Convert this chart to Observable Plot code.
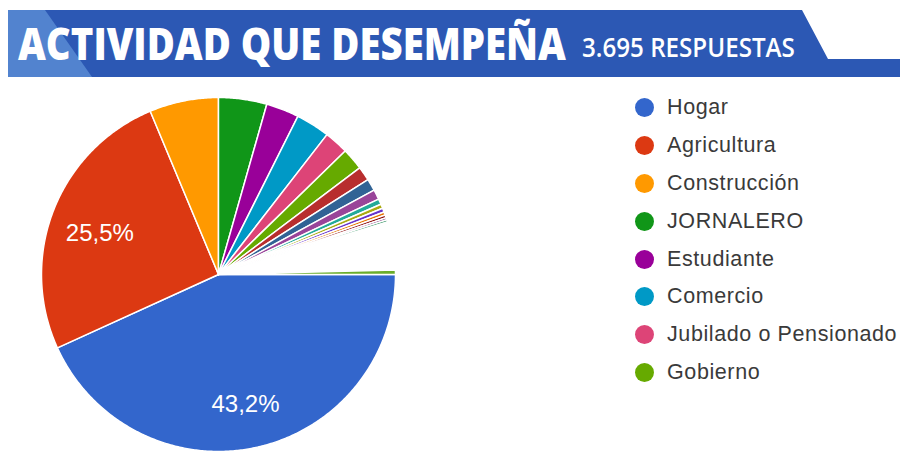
<!DOCTYPE html>
<html>
<head>
<meta charset="utf-8">
<script src="https://cdn.jsdelivr.net/npm/d3@7"></script>
<script src="https://cdn.jsdelivr.net/npm/@observablehq/plot@0.6"></script>
<style>
  html, body { margin: 0; padding: 0; background: #fff; }
  #wrap { position: relative; width: 900px; height: 470px; overflow: hidden; background: #fff; }
  #chart { position: absolute; left: 0; top: 0; }
  #banner { position: absolute; left: 0; top: 0; }
  #legend { position: absolute; left: 635px; top: 89px; font-family: "Liberation Sans", Arial, sans-serif; font-size: 21.5px; letter-spacing: 0.6px; color: #3a3a3a; white-space: nowrap; }
  .row { height: 37.8px; display: flex; align-items: center; }
  .sw { width: 19px; height: 19px; border-radius: 50%; margin-right: 13px; flex: none; }
</style>
</head>
<body>
<div id="wrap">
  <div id="chart"></div>
  <svg id="banner" width="900" height="90"></svg>
  <div id="legend"></div>
</div>
<script>
// ---- data ----
const title = "ACTIVIDAD QUE DESEMPEÑA";
const subtitle = "3.695 RESPUESTAS";
const categories = [
  "Hogar", "Agricultura", "Construcción", "JORNALERO", "Estudiante", "Comercio",
  "Jubilado o Pensionado", "Gobierno",
  "Otra 9", "Otra 10", "Otra 11", "Otra 12", "Otra 13", "Otra 14", "Otra 15",
  "Otra 16", "Otra 17", "Otra 18", "Otra 19", "Otras respuestas", "Otra 20"
];
const shares = [
  43.2, 25.5, 6.3, 4.4, 3.0, 3.1,
  2.2, 2.0,
  1.3, 1.1, 0.9, 0.5, 0.4, 0.35, 0.3,
  0.25, 0.2, 0.2, 0.15, 4.25, 0.4
];
const colors = [
  "#3366cc", "#dc3912", "#ff9900", "#109618", "#990099", "#0099c6",
  "#dd4477", "#66aa00",
  "#b82e2e", "#316395", "#994499", "#22aa99", "#aaaa11", "#6633cc", "#e67300",
  "#8b0707", "#651067", "#329262", "#5574a6", "#ffffff", "#6aad2a"
];
const legendCount = 8;       // entries visible in the legend
const labelThreshold = 10;   // % needed to print a label inside a slice

// ---- build slice outlines in unit-circle data space ----
const pts = [];
const labels = [];
let acc = 0;
categories.forEach((c, i) => {
  const a0 = acc / 100 * 2 * Math.PI;
  acc += shares[i];
  const a1 = acc / 100 * 2 * Math.PI;
  const n = Math.max(2, Math.ceil((a1 - a0) / (Math.PI / 360)));
  pts.push({cat: c, x: 0, y: 0});
  for (let k = 0; k <= n; k++) {
    const a = a0 + (a1 - a0) * k / n;
    pts.push({cat: c, x: Math.cos(a), y: Math.sin(a)});
  }
  pts.push({cat: c, x: 0, y: 0});
  if (shares[i] >= labelThreshold) {
    const m = (a0 + a1) / 2, r = 0.72;
    labels.push({x: r * Math.cos(m), y: r * Math.sin(m), text: shares[i].toFixed(1).replace(".", ",") + "%"});
  }
});

const plot = Plot.plot({
  width: 900,
  height: 470,
  margin: 0,
  style: {background: "transparent"},
  x: {domain: [-1, 1], range: [41, 395], axis: null},
  y: {domain: [-1, 1], range: [97, 451], axis: null},
  color: {domain: categories, range: colors},
  marks: [
    Plot.line(pts, {x: "x", y: "y", z: "cat", fill: "cat", stroke: "white", strokeWidth: 1.5, strokeLinejoin: "round", curve: "linear"}),
    Plot.text(labels, {x: "x", y: "y", dy: 5, text: "text", fill: "white", fontSize: 24, fontFamily: "Liberation Sans, Arial, sans-serif"})
  ]
});
document.getElementById("chart").appendChild(plot);

// ---- banner ----
const ns = "http://www.w3.org/2000/svg";
const banner = document.getElementById("banner");
function el(tag, attrs, text) {
  const e = document.createElementNS(ns, tag);
  for (const k in attrs) e.setAttribute(k, attrs[k]);
  if (text) e.textContent = text;
  banner.appendChild(e);
  return e;
}
// text squeezed horizontally to a target width with a transform
function fitText(str, x, y, size, weight, target) {
  const t = el("text", {x: 0, y: 0, fill: "white", "font-family": "Open Sans, DejaVu Sans, sans-serif", "font-weight": weight, "font-size": size}, str);
  const w = t.getComputedTextLength() || target;
  t.setAttribute("transform", `translate(${x},${y}) scale(${target / w},1)`);
  return t;
}
el("polygon", {points: "8,10 802,10 828,59 900,59 900,77 8,77", fill: "#2c58b4"});
el("polygon", {points: "8,10 45,10 92,77 8,77", fill: "#5283cf"});
fitText(title, 18, 60, 44, 800, 548);
fitText(subtitle, 582, 57, 27, 600, 213);

// ---- legend ----
const legend = document.getElementById("legend");
categories.slice(0, legendCount).forEach((c, i) => {
  const row = document.createElement("div");
  row.className = "row";
  const sw = document.createElement("span");
  sw.className = "sw";
  sw.style.background = colors[i];
  const t = document.createElement("span");
  t.textContent = c;
  row.appendChild(sw);
  row.appendChild(t);
  legend.appendChild(row);
});
</script>
</body>
</html>
